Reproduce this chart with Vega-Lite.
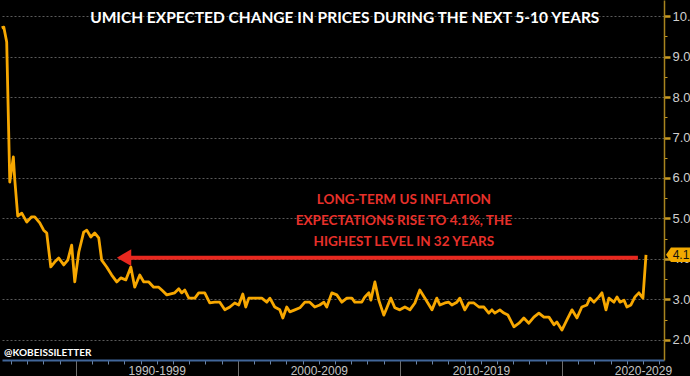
{
  "$schema": "https://vega.github.io/schema/vega-lite/v6.json",
  "width": 662,
  "height": 360,
  "padding": 0,
  "background": "#000000",
  "config": {"view": {"stroke": null}},
  "datasets": {
    "series": [
      {"t": 1985.43, "v": 9.71}, {"t": 1985.56, "v": 9.73}, {"t": 1985.74, "v": 9.36}, {"t": 1985.93, "v": 5.90},
      {"t": 1986.15, "v": 6.52}, {"t": 1986.23, "v": 6.00}, {"t": 1986.42, "v": 5.06}, {"t": 1986.67, "v": 5.13},
      {"t": 1986.98, "v": 4.91}, {"t": 1987.28, "v": 5.04}, {"t": 1987.47, "v": 5.04}, {"t": 1987.78, "v": 4.89},
      {"t": 1988.02, "v": 4.71}, {"t": 1988.21, "v": 4.64}, {"t": 1988.46, "v": 3.80}, {"t": 1988.70, "v": 3.92},
      {"t": 1988.95, "v": 4.02}, {"t": 1989.26, "v": 3.85}, {"t": 1989.51, "v": 3.97}, {"t": 1989.75, "v": 4.34},
      {"t": 1989.94, "v": 3.43}, {"t": 1990.19, "v": 4.17}, {"t": 1990.49, "v": 4.66}, {"t": 1990.68, "v": 4.71},
      {"t": 1990.93, "v": 4.54}, {"t": 1991.17, "v": 4.64}, {"t": 1991.42, "v": 4.52}, {"t": 1991.60, "v": 3.97},
      {"t": 1991.91, "v": 3.80}, {"t": 1992.22, "v": 3.60}, {"t": 1992.53, "v": 3.43}, {"t": 1992.78, "v": 3.53},
      {"t": 1993.09, "v": 3.48}, {"t": 1993.40, "v": 3.80}, {"t": 1993.64, "v": 3.30}, {"t": 1993.95, "v": 3.60},
      {"t": 1994.20, "v": 3.43}, {"t": 1994.51, "v": 3.43}, {"t": 1994.81, "v": 3.30}, {"t": 1995.12, "v": 3.30},
      {"t": 1995.31, "v": 3.23}, {"t": 1995.62, "v": 3.11}, {"t": 1996.11, "v": 3.16}, {"t": 1996.36, "v": 3.26},
      {"t": 1996.54, "v": 3.16}, {"t": 1996.73, "v": 3.23}, {"t": 1996.98, "v": 3.03}, {"t": 1997.35, "v": 3.03},
      {"t": 1997.59, "v": 3.16}, {"t": 1997.96, "v": 3.16}, {"t": 1998.27, "v": 2.91}, {"t": 1998.58, "v": 2.93},
      {"t": 1998.89, "v": 2.93}, {"t": 1999.20, "v": 2.74}, {"t": 1999.51, "v": 2.81}, {"t": 1999.81, "v": 2.91},
      {"t": 2000.06, "v": 2.86}, {"t": 2000.31, "v": 3.13}, {"t": 2000.49, "v": 2.81}, {"t": 2000.68, "v": 3.03},
      {"t": 2000.99, "v": 3.03}, {"t": 2001.48, "v": 3.03}, {"t": 2001.79, "v": 2.93}, {"t": 2001.98, "v": 3.03},
      {"t": 2002.28, "v": 2.81}, {"t": 2002.59, "v": 2.74}, {"t": 2002.78, "v": 2.54}, {"t": 2003.02, "v": 2.81},
      {"t": 2003.21, "v": 2.69}, {"t": 2003.52, "v": 2.74}, {"t": 2003.83, "v": 2.79}, {"t": 2004.14, "v": 2.93},
      {"t": 2004.44, "v": 2.93}, {"t": 2004.75, "v": 2.81}, {"t": 2005.06, "v": 2.86}, {"t": 2005.31, "v": 2.93},
      {"t": 2005.49, "v": 2.81}, {"t": 2005.80, "v": 3.16}, {"t": 2006.11, "v": 3.11}, {"t": 2006.42, "v": 2.93},
      {"t": 2006.73, "v": 3.03}, {"t": 2007.04, "v": 3.03}, {"t": 2007.22, "v": 2.93}, {"t": 2007.65, "v": 2.93},
      {"t": 2007.84, "v": 3.06}, {"t": 2008.09, "v": 3.16}, {"t": 2008.21, "v": 2.98}, {"t": 2008.46, "v": 3.43},
      {"t": 2008.70, "v": 2.98}, {"t": 2009.01, "v": 2.61}, {"t": 2009.20, "v": 2.79}, {"t": 2009.44, "v": 3.03},
      {"t": 2009.69, "v": 2.79}, {"t": 2010.00, "v": 2.74}, {"t": 2010.31, "v": 2.81}, {"t": 2010.62, "v": 2.74},
      {"t": 2010.93, "v": 2.91}, {"t": 2011.23, "v": 3.23}, {"t": 2011.54, "v": 3.03}, {"t": 2011.98, "v": 2.74},
      {"t": 2012.28, "v": 3.03}, {"t": 2012.47, "v": 2.86}, {"t": 2012.78, "v": 2.91}, {"t": 2013.02, "v": 2.93},
      {"t": 2013.21, "v": 2.86}, {"t": 2013.52, "v": 2.93}, {"t": 2013.70, "v": 3.03}, {"t": 2014.01, "v": 2.74},
      {"t": 2014.26, "v": 2.91}, {"t": 2014.57, "v": 2.91}, {"t": 2014.88, "v": 2.81}, {"t": 2015.19, "v": 2.81},
      {"t": 2015.49, "v": 2.66}, {"t": 2015.68, "v": 2.74}, {"t": 2015.86, "v": 2.66}, {"t": 2016.17, "v": 2.74},
      {"t": 2016.42, "v": 2.66}, {"t": 2016.67, "v": 2.61}, {"t": 2017.04, "v": 2.32}, {"t": 2017.35, "v": 2.41},
      {"t": 2017.65, "v": 2.54}, {"t": 2017.96, "v": 2.41}, {"t": 2018.27, "v": 2.56}, {"t": 2018.58, "v": 2.66},
      {"t": 2018.89, "v": 2.56}, {"t": 2019.20, "v": 2.56}, {"t": 2019.51, "v": 2.37}, {"t": 2019.69, "v": 2.44},
      {"t": 2020.00, "v": 2.24}, {"t": 2020.31, "v": 2.49}, {"t": 2020.62, "v": 2.74}, {"t": 2020.93, "v": 2.54},
      {"t": 2021.23, "v": 2.81}, {"t": 2021.54, "v": 2.86}, {"t": 2021.73, "v": 3.03}, {"t": 2021.98, "v": 2.93},
      {"t": 2022.28, "v": 3.06}, {"t": 2022.47, "v": 3.16}, {"t": 2022.72, "v": 2.74}, {"t": 2022.90, "v": 3.03},
      {"t": 2023.21, "v": 2.93}, {"t": 2023.40, "v": 3.06}, {"t": 2023.58, "v": 2.93}, {"t": 2023.83, "v": 2.98},
      {"t": 2024.01, "v": 2.81}, {"t": 2024.26, "v": 2.86}, {"t": 2024.51, "v": 3.06}, {"t": 2024.75, "v": 3.16},
      {"t": 2025.00, "v": 3.03}, {"t": 2025.19, "v": 4.10}
    ]
  },
  "encoding": {
    "x": {
      "field": "t", "type": "quantitative",
      "scale": {"domain": [1985.45, 2026.3], "nice": false, "zero": false},
      "axis": {
        "title": null,
        "values": [1986,1987,1988,1989,1990,1991,1992,1993,1994,1995,1996,1997,1998,1999,2000,2001,2002,2003,2004,2005,2006,2007,2008,2009,2010,2011,2012,2013,2014,2015,2016,2017,2018,2019,2020,2021,2022,2023,2024,2025,2026],
        "labelExpr": "datum.value % 10 == 5 ? (datum.value - 5) + '-' + (datum.value + 4) : ''",
        "grid": false,
        "domainColor": "#41669a",
        "domainWidth": 2,
        "tickColor": {"condition": {"test": "datum.value % 10 == 0", "value": "#6f6f6f"}, "value": "#6d86a8"},
        "tickSize": {"condition": {"test": "datum.value % 10 == 0", "value": 18}, "value": 4},
        "tickWidth": 1,
        "labelColor": "#c4c4c4",
        "labelFont": "Liberation Sans",
        "labelFontSize": 12,
        "labelPadding": 1,
        "labelOverlap": false,
        "labelFlush": false
      }
    },
    "y": {
      "field": "v", "type": "quantitative",
      "scale": {"domain": [1.5, 10.4], "nice": false, "zero": false},
      "axis": {
        "orient": "right",
        "title": null,
        "values": [2,2.5,3,3.5,4,4.5,5,5.5,6,6.5,7,7.5,8,8.5,9,9.5,10],
        "labelExpr": "datum.value % 1 == 0 ? format(datum.value, '.1f') : ''",
        "grid": true,
        "gridColor": "#5a5a5a",
        "gridDash": [2, 2],
        "gridWidth": 1,
        "gridOpacity": {"condition": {"test": "datum.value % 1 == 0", "value": 1}, "value": 0},
        "domainColor": "#a8841f",
        "domainWidth": 1.5,
        "tickColor": "#c99a22",
        "tickSize": {"condition": {"test": "datum.value % 1 == 0", "value": 6}, "value": 3},
        "tickWidth": {"condition": {"test": "datum.value % 1 == 0", "value": 2.5}, "value": 1},
        "labelColor": "#cfcfcf",
        "labelFont": "Liberation Sans",
        "labelFontSize": 13,
        "labelPadding": 2,
        "labelOverlap": false,
        "labelFlush": false
      }
    }
  },
  "layer": [
    {
      "data": {"name": "series"},
      "mark": {"type": "line", "color": "#f7a700", "strokeWidth": 2.8, "strokeJoin": "round", "clip": false}
    },
    {
      "data": {"values": [{"t": 1993.0, "t2": 2024.69, "v": 4.03}]},
      "mark": {"type": "rule", "color": "#e8281f", "strokeWidth": 4},
      "encoding": {"x2": {"field": "t2"}}
    },
    {
      "data": {"values": [{"t": 1992.98, "v": 4.03}]},
      "mark": {"type": "point", "shape": "triangle-left", "filled": true, "color": "#e8281f", "size": 280, "opacity": 1}
    },
    {
      "data": {"values": [{"t": 2010.25, "v": 5.456, "label": ["LONG-TERM US INFLATION", "EXPECTATIONS RISE TO 4.1%, THE", "HIGHEST LEVEL IN 32 YEARS"]}]},
      "mark": {"type": "text", "color": "#e8302a", "font": "Lato", "fontWeight": "bold", "fontSize": 13.5, "lineHeight": 21, "align": "center", "baseline": "middle"},
      "encoding": {"text": {"field": "label"}}
    },
    {
      "data": {"values": [{"t": 2006.6, "v": 9.955, "label": "UMICH EXPECTED CHANGE IN PRICES DURING THE NEXT 5-10 YEARS"}]},
      "mark": {"type": "text", "color": "#ffffff", "font": "Lato", "fontWeight": "bold", "fontSize": 15.5, "align": "center", "baseline": "middle"},
      "encoding": {"text": {"field": "label"}}
    },
    {
      "data": {"values": [{"t": 1985.58, "v": 1.673, "label": "@KOBEISSILETTER"}]},
      "mark": {"type": "text", "color": "#ffffff", "font": "Lato", "fontWeight": "bold", "fontSize": 10, "align": "left", "baseline": "middle"},
      "encoding": {"text": {"field": "label"}}
    },
    {
      "data": {"values": [{"t": 2025.19, "v": 4.1, "label": "4.1"}]},
      "mark": {"type": "point", "shape": "M-1,0L-0.62,-0.56L1,-0.56L1,0.56L-0.62,0.56Z", "filled": true, "color": "#f2a900", "size": 676, "opacity": 1, "xOffset": 33, "clip": false}
    },
    {
      "data": {"values": [{"t": 2025.19, "v": 4.1, "label": "4.1"}]},
      "mark": {"type": "text", "color": "#111111", "font": "Liberation Sans", "fontSize": 12, "align": "center", "baseline": "middle", "dx": 35, "clip": false},
      "encoding": {"text": {"field": "label"}}
    }
  ]
}
